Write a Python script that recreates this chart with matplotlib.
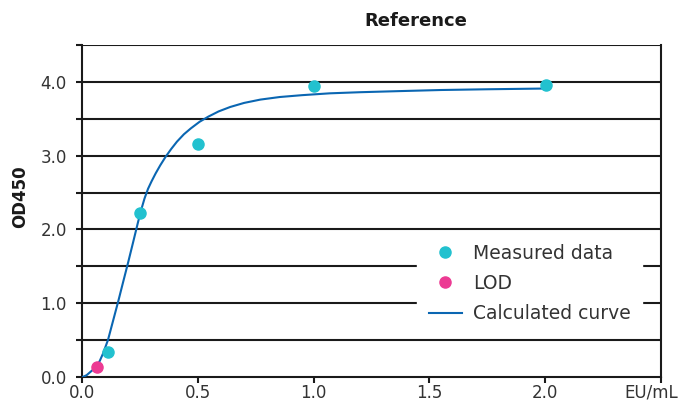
import matplotlib
matplotlib.use("Agg")
import matplotlib.pyplot as plt
import matplotlib.transforms as mtransforms
from matplotlib.lines import Line2D
from matplotlib.ticker import FixedLocator

plt.rcParams["font.family"] = ["DejaVu Sans"]

# Data
measured_x = [0.111, 0.25, 0.502, 1.0, 2.004]
measured_y = [0.34, 2.22, 3.16, 3.95, 3.96]
lod_x = [0.063]
lod_y = [0.13]
curve_x = [0.0, 0.006, 0.02, 0.033, 0.048, 0.063, 0.077, 0.091, 0.112, 0.134, 0.156,
           0.177, 0.199, 0.221, 0.242, 0.256, 0.27, 0.285, 0.30, 0.318, 0.338, 0.36,
           0.385, 0.41, 0.44, 0.47, 0.508, 0.546, 0.59, 0.64, 0.70, 0.77, 0.854,
           0.95, 1.07, 1.2, 1.37, 1.55, 1.75, 2.0]
curve_y = [0.0, 0.004, 0.025, 0.06, 0.10, 0.145, 0.22, 0.32, 0.50, 0.76, 1.02,
           1.28, 1.55, 1.83, 2.10, 2.27, 2.42, 2.55, 2.65, 2.76, 2.87, 2.98,
           3.09, 3.19, 3.29, 3.37, 3.46, 3.53, 3.60, 3.66, 3.715, 3.76, 3.795,
           3.82, 3.845, 3.86, 3.875, 3.89, 3.90, 3.91]
x_ticks = [0.0, 0.5, 1.0, 1.5, 2.0, 2.5]
x_tick_labels = ["0.0", "0.5", "1.0", "1.5", "2.0", "EU/mL"]
y_ticks = [0.0, 0.5, 1.0, 1.5, 2.0, 2.5, 3.0, 3.5, 4.0, 4.5]
y_tick_labels = ["0.0", "", "1.0", "", "2.0", "", "3.0", "", "4.0", ""]

CYAN = "#22c1cf"
PINK = "#ec3a93"
BLUE = "#0a66b2"
TXT = "#333333"

fig = plt.figure(figsize=(6.86, 4.01), dpi=100)
ax = fig.add_axes([82/686, 24/401, (661-82)/686, (377-45)/401])

ax.set_xlim(0, 2.5)
ax.set_ylim(0, 4.5)

for yv in y_ticks[1:]:
    ax.axhline(yv, color="#1a1a1a", lw=1.5, zorder=1)

ax.plot(curve_x, curve_y, color=BLUE, lw=1.5, zorder=3,
        solid_capstyle="round", solid_joinstyle="round")
ax.plot(measured_x, measured_y, "o", color=CYAN, ms=8, zorder=4, clip_on=False)
ax.plot(lod_x, lod_y, "o", color=PINK, ms=8, zorder=4, clip_on=False)

for s in ["left", "bottom", "right"]:
    ax.spines[s].set_linewidth(1.5)
    ax.spines[s].set_color("#1a1a1a")
ax.spines["top"].set_visible(False)

ax.xaxis.set_major_locator(FixedLocator(x_ticks))
ax.set_xticklabels(x_tick_labels)
ax.yaxis.set_major_locator(FixedLocator(y_ticks))
ax.set_yticklabels(y_tick_labels)
ax.tick_params(axis="both", direction="out", length=4, width=1.5, color="#1a1a1a",
               labelsize=12, labelcolor=TXT)
ax.tick_params(axis="x", pad=1)
ax.tick_params(axis="y", pad=7)

# shift the unit label a little left, as in the reference
last = ax.get_xticklabels()[-1]
last.set_transform(last.get_transform() +
                   mtransforms.ScaledTranslation(-10/100, 0, fig.dpi_scale_trans))

fig.text(20/686, 1 - 197/401, "OD450", rotation=90, ha="center", va="center",
         fontsize=12, fontweight="bold", color="#1a1a1a")
fig.text(416/686, 1 - 21/401, "Reference", ha="center", va="center",
         fontsize=13, fontweight="bold", color="#1a1a1a")

handles = [
    Line2D([], [], marker="o", ls="none", color=CYAN, ms=8, label="Measured data"),
    Line2D([], [], marker="o", ls="none", color=PINK, ms=8, label="LOD"),
    Line2D([], [], color=BLUE, lw=1.5, label="Calculated curve"),
]
leg = ax.legend(handles=handles, loc="upper left",
                bbox_to_anchor=((417-82)/579, (377-232)/332),
                frameon=True, fancybox=False, framealpha=1, edgecolor="white",
                facecolor="white", fontsize=13.5, labelcolor=TXT,
                handlelength=1.76, handletextpad=0.6, borderpad=0.62,
                labelspacing=0.6, borderaxespad=0)
leg.set_zorder(5)

fig.savefig("out.png", dpi=100)
